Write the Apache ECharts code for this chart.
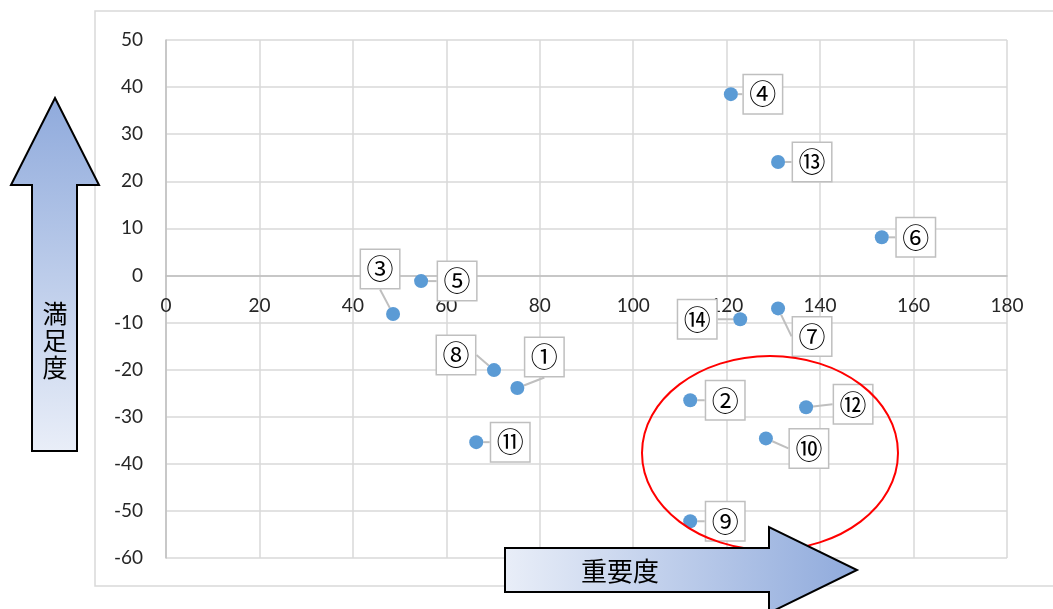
<!DOCTYPE html>
<html>
<head>
<meta charset="utf-8">
<script src="https://cdn.jsdelivr.net/npm/echarts@6/dist/echarts.min.js"></script>
<style>
  html, body { margin: 0; padding: 0; background: #fff; }
  #chart { width: 1053px; height: 609px; }
</style>
</head>
<body>
<div id="chart"></div>
<script>
// 項目番号
const itemNames = ['①', '②', '③', '④', '⑤', '⑥', '⑦', '⑧', '⑨', '⑩', '⑪', '⑫', '⑬', '⑭']
// 重要度
const importance = [75.2, 112.2, 48.6, 120.9, 54.6, 153.2, 131.0, 70.2, 112.2, 128.4, 66.4, 137.0, 131.0, 122.9]
// 満足度
const satisfaction = [-23.9, -26.5, -8.2, 38.5, -1.2, 8.1, -7.0, -20.1, -52.2, -34.6, -35.4, -28.0, 24.1, -9.3]

// callout offsets (px) from the point
const labelOffsets = [
  [27, -31], [35, 0], [-13, -45], [32, 0], [36, 0], [34, 0], [34, 28],
  [-38, -15], [35, 0], [43, 10], [34, 0], [47, -3], [34, 0], [-43, 0]
]

const gridTop = 40
const gridBottom = 51
const yMin = -60
const yMax = 50
const plotHeight = 609 - gridTop - gridBottom

const chart = echarts.init(document.getElementById('chart'))
const axisFont = { fontFamily: 'Lato, "Noto Sans", sans-serif', fontSize: 19, color: '#262626' }
const arrowFill = (x1, y1, x2, y2) => ({
  type: 'linear', x: x1, y: y1, x2: x2, y2: y2,
  colorStops: [{ offset: 0, color: '#8faadc' }, { offset: 1, color: '#e9eef8' }]
})

chart.setOption({
  animation: false,
  grid: { left: 166, right: 46, top: gridTop, bottom: gridBottom },
  xAxis: {
    type: 'value',
    min: 0,
    max: 180,
    interval: 20,
    // x軸はy=0の位置に（ラベルも一緒に）
    offset: -plotHeight * (0 - yMin) / (yMax - yMin),
    axisLine: { onZero: false, lineStyle: { color: '#bfbfbf', width: 1.5 } },
    axisTick: { show: false },
    axisLabel: Object.assign({ margin: 21 }, axisFont),
    splitLine: { lineStyle: { color: '#d9d9d9', width: 1.5 } }
  },
  yAxis: {
    type: 'value',
    min: yMin,
    max: yMax,
    interval: 10,
    axisLine: { show: true, onZero: true, lineStyle: { color: '#bfbfbf', width: 1.5 } },
    axisTick: { show: false },
    axisLabel: Object.assign({ margin: 23 }, axisFont),
    splitLine: { lineStyle: { color: '#d9d9d9', width: 1.5 } }
  },
  series: [
    {
      type: 'scatter',
      symbolSize: 14,
      itemStyle: { color: '#5b9bd5', opacity: 1 },
      data: importance.map((x, i) => ({ value: [x, satisfaction[i]], name: itemNames[i] })),
      label: {
        show: true,
        position: 'inside',
        formatter: '{b}',
        fontFamily: '"Noto Sans CJK JP", sans-serif',
        fontSize: 27,
        color: '#000',
        backgroundColor: '#fff',
        borderColor: '#bfbfbf',
        borderWidth: 1.5,
        width: 38,
        height: 38,
        lineHeight: 38,
        align: 'center',
        verticalAlign: 'middle'
      },
      labelLine: { show: true, lineStyle: { color: '#bfbfbf', width: 2 } },
      labelLayout: function (params) {
        const o = labelOffsets[params.dataIndex]
        return { dx: o[0], dy: o[1] }
      }
    }
  ],
  graphic: [
    {
      type: 'rect',
      silent: true,
      z: -10,
      shape: { x: 95, y: 11, width: 1000, height: 575 },
      style: { fill: 'none', stroke: '#d9d9d9', lineWidth: 1.5 }
    },
    {
      type: 'ellipse',
      silent: true,
      z: 50,
      shape: { cx: 770, cy: 453, rx: 128, ry: 97 },
      style: { fill: 'none', stroke: '#ff0000', lineWidth: 2 }
    },
    {
      // 縦矢印（満足度）
      type: 'polygon',
      silent: true,
      z: 60,
      shape: { points: [[55, 98], [99, 185], [77, 185], [77, 451], [32, 451], [32, 185], [11, 185]] },
      style: { fill: arrowFill(0, 0, 0, 1), stroke: '#000', lineWidth: 2 }
    },
    {
      type: 'text',
      silent: true,
      z: 61,
      x: 55,
      y: 340,
      style: {
        text: '満\n足\n度',
        fontFamily: '"Noto Sans CJK JP", sans-serif',
        fontSize: 25,
        lineHeight: 27,
        fill: '#000',
        align: 'center',
        verticalAlign: 'middle'
      }
    },
    {
      // 横矢印（重要度）
      type: 'polygon',
      silent: true,
      z: 60,
      shape: { points: [[505, 548], [769, 548], [769, 527], [857, 570], [769, 613], [769, 592], [505, 592]] },
      style: { fill: arrowFill(1, 0, 0, 0), stroke: '#000', lineWidth: 2 }
    },
    {
      type: 'text',
      silent: true,
      z: 61,
      x: 620,
      y: 571,
      style: {
        text: '重要度',
        fontFamily: '"Noto Sans CJK JP", sans-serif',
        fontSize: 26,
        fill: '#000',
        align: 'center',
        verticalAlign: 'middle'
      }
    }
  ]
})
</script>
</body>
</html>
